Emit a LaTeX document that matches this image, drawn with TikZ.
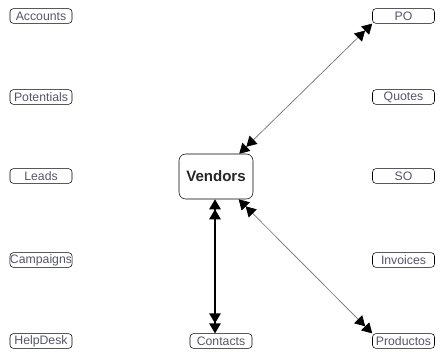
\documentclass[tikz,border=0pt]{standalone}
\usepackage{fontspec}
\setmainfont{Liberation Sans}
\usetikzlibrary{arrows.meta}
\definecolor{labelgray}{RGB}{85,85,105}
\definecolor{linkgray}{RGB}{110,110,110}
\tikzset{
	module/.style={draw, rounded corners=2.5pt, inner sep=0pt,
		minimum width=46.5pt, minimum height=11pt,
		font=\fontsize{9.2}{10}\selectfont, text=labelgray},
	hub/.style={draw, rounded corners=5pt, inner sep=0pt,
		minimum width=55.5pt, minimum height=33.75pt,
		font=\fontsize{11.3}{13}\selectfont\bfseries, text=black!85},
	twohead/.style={{Triangle[length=7.5pt,width=8.5pt,color=black]Triangle[length=7.5pt,width=8.5pt,color=black]}-{Triangle[length=7.5pt,width=8.5pt,color=black]Triangle[length=7.5pt,width=8.5pt,color=black]}},
}
\begin{document}
\begin{tikzpicture}[x=0.75pt,y=-0.75pt]
	\useasboundingbox (0,0) rectangle (448,363);
	% Draw the left column of modules
	\node[module] (accounts) at (41,16) {Accounts};
	\node[module] (potentials) at (41,97) {Potentials};
	\node[module] (leads) at (41,176) {Leads};
	\node[module] (campaigns) at (41,260) {Campaigns};
	\node[module] (helpdesk) at (41,341) {HelpDesk};
	% Draw the right column of modules
	\node[module] (po) at (403.5,16) {PO};
	\node[module] (quotes) at (403.5,97) {Quotes};
	\node[module] (so) at (403.5,176) {SO};
	\node[module] (invoices) at (403.5,260) {Invoices};
	\node[module] (productos) at (403.5,341) {Productos};
	% Draw the central module and contacts
	\node[hub] (vendors) at (216,176.5) {Vendors};
	\node[module] (contacts) at (221,341) {Contacts};
	% Draw the relations of the central module
	\draw[twohead, linkgray, line width=0.5pt] (vendors) -- (po.south west);
	\draw[twohead, linkgray, line width=0.5pt] (vendors) -- (productos.north west);
	\draw[twohead, line width=1.1pt] (vendors.south -| 215,0) -- (contacts.north -| 215,0);
\end{tikzpicture}
\end{document}
